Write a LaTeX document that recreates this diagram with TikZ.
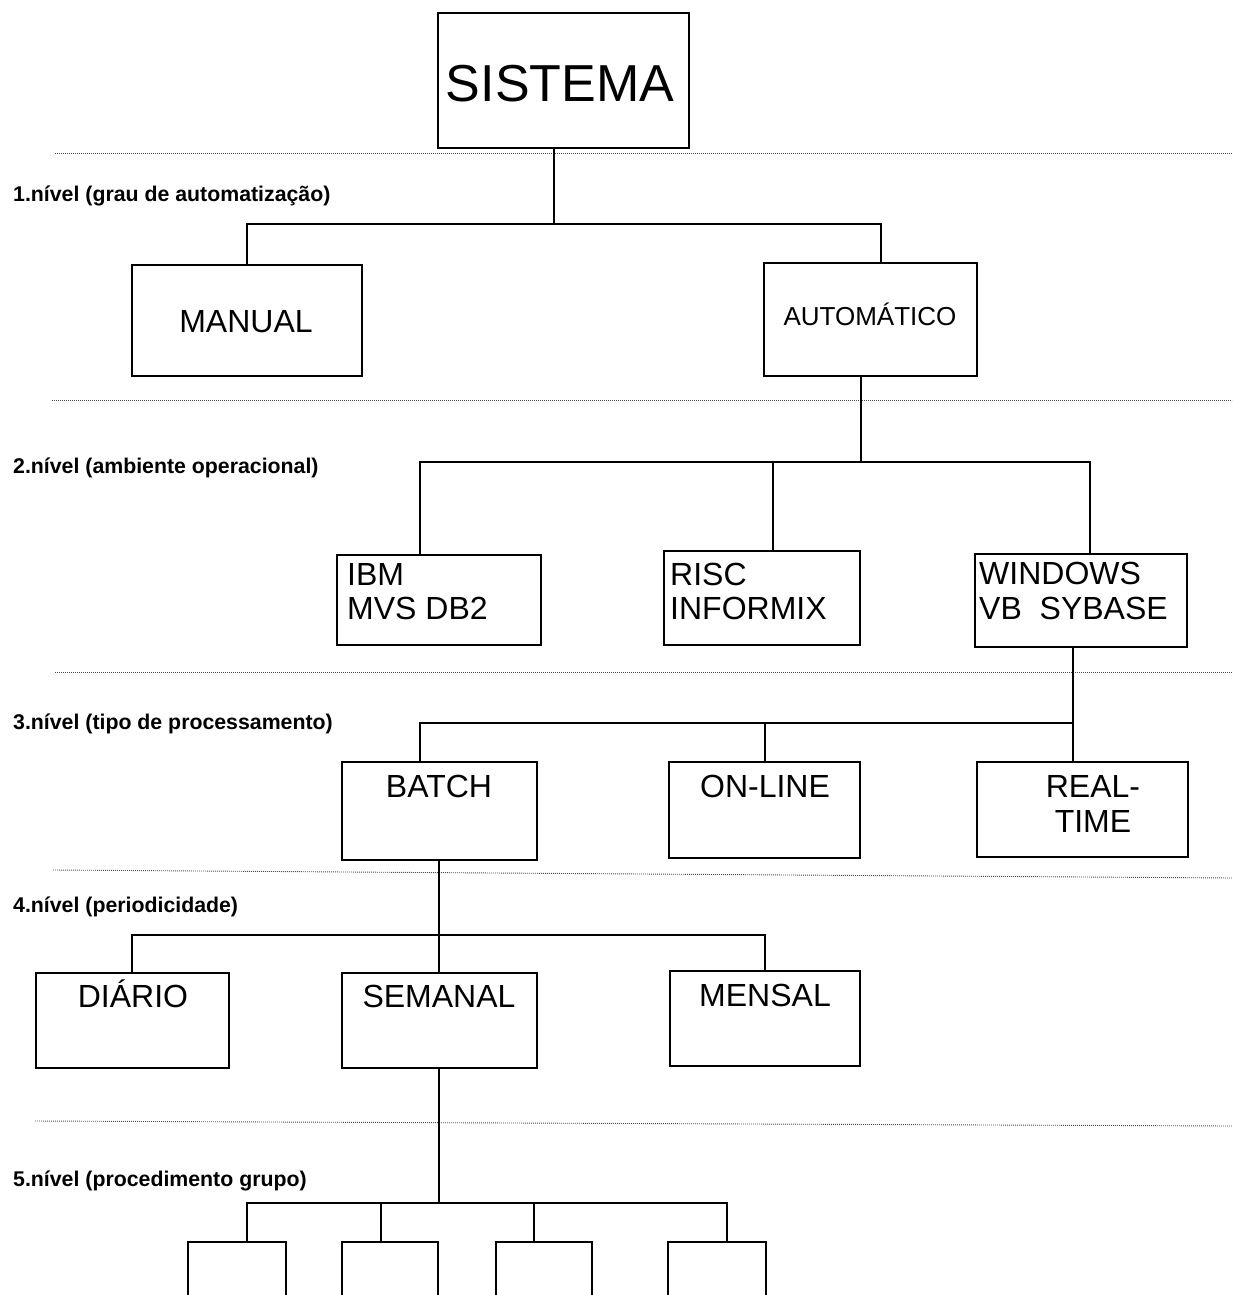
\documentclass[tikz,border=0pt]{standalone}
\usepackage{fontspec}
\setmainfont{Liberation Sans}
\begin{document}
\begin{tikzpicture}[x=1pt,y=-1pt,
  box/.style={draw, line width=2.8pt, inner sep=0pt, outer sep=0pt, anchor=north west},
  conn/.style={line width=2.8pt},
  sep/.style={black!70, line width=0.9pt, dash pattern=on 0.9pt off 1.1pt},
  lvl/.style={font=\bfseries\fontsize{21.3}{24}\selectfont, anchor=base west, inner sep=0pt},
  big/.style={font=\fontsize{32}{35}\selectfont, inner sep=0pt}]
\useasboundingbox (0,0) rectangle (1232,1295);
% separators
\coordinate (s1a) at (55,153);  \coordinate (s1b) at (1232,153);
\coordinate (s2a) at (52,400);  \coordinate (s2b) at (1232,400);
\coordinate (s3a) at (55,672);  \coordinate (s3b) at (1232,672);
\coordinate (s4a) at (53,870);  \coordinate (s4b) at (1232,878);
\coordinate (s5a) at (35,1121); \coordinate (s5b) at (1232,1126);
\draw[sep] (s1a) -- (s1b);
\draw[sep] (s2a) -- (s2b);
\draw[sep] (s3a) -- (s3b);
\draw[sep] (s4a) -- (s4b);
\draw[sep] (s5a) -- (s5b);
% level labels
\node[lvl] (l1) at (13,201) {1.nível (grau de automatização)};
\node[lvl] (l2) at (13,473) {2.nível (ambiente operacional)};
\node[lvl] (l3) at (13,729) {3.nível (tipo de processamento)};
\node[lvl] (l4) at (13,912) {4.nível (periodicidade)};
\node[lvl] (l5) at (13,1186) {5.nível (procedimento grupo)};
% boxes
\node[box, minimum width=251pt, minimum height=135pt] (sis) at (438,13) {};
\node[box, minimum width=230pt, minimum height=111pt] (man) at (132,265) {};
\node[box, minimum width=213pt, minimum height=113pt] (aut) at (764,263) {};
\node[box, minimum width=204pt, minimum height=90pt] (ibm) at (337,555) {};
\node[box, minimum width=196pt, minimum height=94pt] (risc) at (664,551) {};
\node[box, minimum width=212pt, minimum height=93pt] (win) at (975,554) {};
\node[box, minimum width=195pt, minimum height=98pt] (bat) at (342,762) {};
\node[box, minimum width=191pt, minimum height=96pt] (onl) at (669,762) {};
\node[box, minimum width=211pt, minimum height=95pt] (rt) at (977,762) {};
\node[box, minimum width=193pt, minimum height=95pt] (dia) at (36,973) {};
\node[box, minimum width=195pt, minimum height=95pt] (sem) at (342,973) {};
\node[box, minimum width=190pt, minimum height=95pt] (men) at (670,971) {};
\node[box, minimum width=98pt, minimum height=80pt] (p1) at (188,1242) {};
\node[box, minimum width=96pt, minimum height=80pt] (p2) at (342,1242) {};
\node[box, minimum width=96pt, minimum height=80pt] (p3) at (496,1242) {};
\node[box, minimum width=98pt, minimum height=80pt] (p4) at (668,1242) {};
% texts
\node[font=\fontsize{52}{56}\selectfont, inner sep=0pt, anchor=base] (tsis) at (560,102) {SISTEMA};
\node[big, anchor=base] (tman) at (246,332) {MANUAL};
\node[font=\fontsize{26}{30}\selectfont, inner sep=0pt, anchor=base] (taut) at (870,325) {AUTOMÁTICO};
\node[big, anchor=base west] (tibm1) at (347,585) {IBM};
\node[big, anchor=base west] (tibm2) at (347,619) {MVS DB2};
\node[big, anchor=base west] (trisc1) at (670,585) {RISC};
\node[big, anchor=base west] (trisc2) at (670,619) {INFORMIX};
\node[big, anchor=base west] (twin1) at (979,584) {WINDOWS};
\node[big, anchor=base west] (twin2) at (979,619) {VB\ \ SYBASE};
\node[big, anchor=base] (tbat) at (439,797) {BATCH};
\node[big, anchor=base] (tonl) at (765,797) {ON-LINE};
\node[big, anchor=base] (trt1) at (1093,797) {REAL-};
\node[big, anchor=base] (trt2) at (1093,832) {TIME};
\node[big, anchor=base] (tdia) at (133,1007) {DIÁRIO};
\node[big, anchor=base] (tsem) at (439,1007) {SEMANAL};
\node[big, anchor=base] (tmen) at (765,1006) {MENSAL};
% x references for connector drops
\coordinate (x554) at (554,0);
\coordinate (x881) at (881,0);
\coordinate (x861) at (861,0);
\coordinate (x420) at (420,0);
\coordinate (x773) at (773,0);
\coordinate (x1090) at (1090,0);
\coordinate (x1073) at (1073,0);
\coordinate (x765) at (765,0);
\coordinate (x439) at (439,0);
\coordinate (x132) at (132,0);
\coordinate (x247) at (247,0);
\coordinate (x381) at (381,0);
\coordinate (x534) at (534,0);
\coordinate (x727) at (727,0);
% bus levels
\coordinate (b1) at (0,224);
\coordinate (b2) at (0,462);
\coordinate (b3) at (0,723);
\coordinate (b4) at (0,935);
\coordinate (b5) at (0,1203);
% level 1
\draw[conn] (sis.south -| x554) -- (b1 -| x554);
\draw[conn] (man.north -| x247) |- (b1 -| x881) -- (aut.north -| x881);
% level 2
\draw[conn] (aut.south -| x861) -- (b2 -| x861);
\draw[conn] (ibm.north -| x420) |- (b2 -| x1090) -- (win.north -| x1090);
\draw[conn] (risc.north -| x773) -- (b2 -| x773);
% level 3
\draw[conn] (win.south -| x1073) -- (rt.north -| x1073);
\draw[conn] (bat.north -| x420) |- (b3 -| x1073);
\draw[conn] (onl.north -| x765) -- (b3 -| x765);
% level 4
\draw[conn] (bat.south -| x439) -- (sem.north -| x439);
\draw[conn] (dia.north -| x132) |- (b4 -| x765) -- (men.north -| x765);
% level 5
\draw[conn] (sem.south -| x439) -- (b5 -| x439);
\draw[conn] (p1.north -| x247) |- (b5 -| x727) -- (p4.north -| x727);
\draw[conn] (p2.north -| x381) -- (b5 -| x381);
\draw[conn] (p3.north -| x534) -- (b5 -| x534);
\end{tikzpicture}
\end{document}
